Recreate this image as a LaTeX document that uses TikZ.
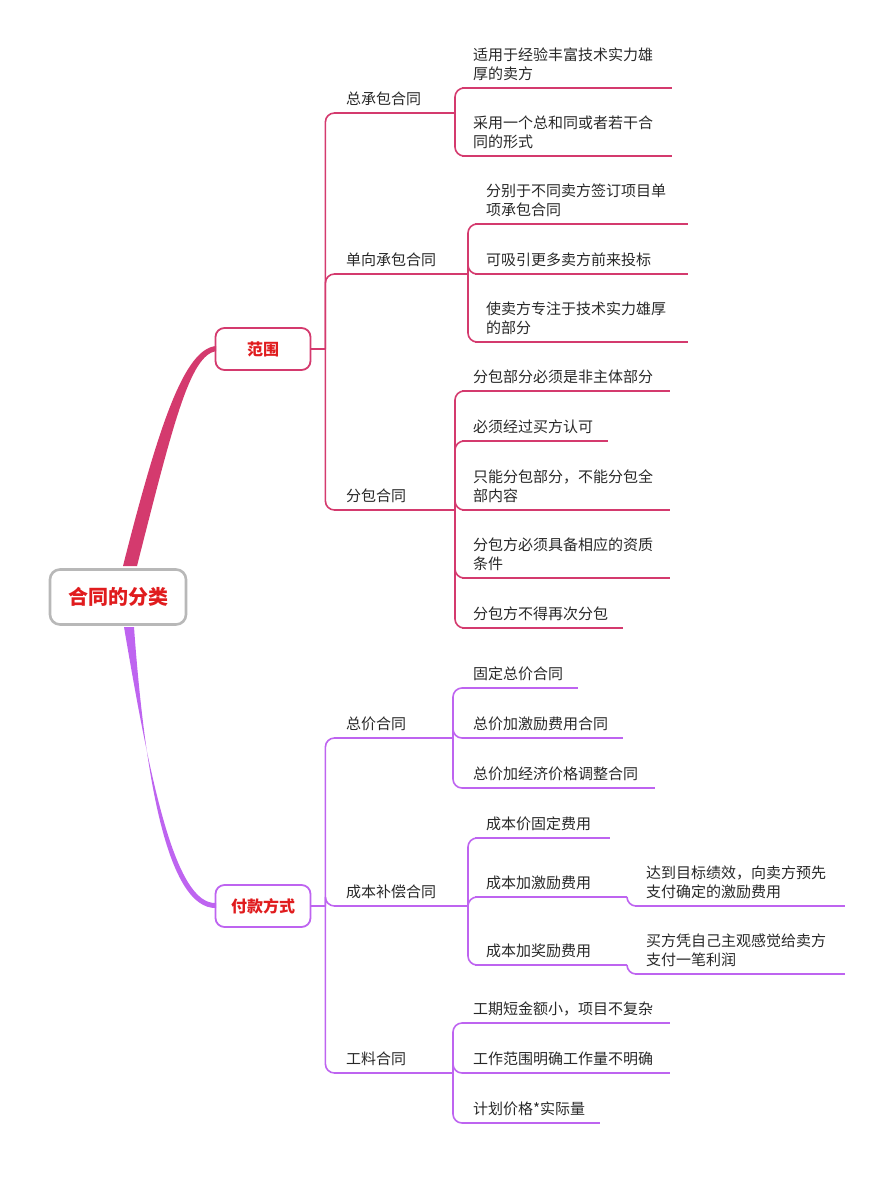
\documentclass[tikz,border=0pt]{standalone}
\usepackage{fontspec}
\setmainfont{Noto Sans CJK SC}
\usetikzlibrary{calc}
\definecolor{pinkc}{RGB}{212,58,110}
\definecolor{purc}{RGB}{190,100,240}
\definecolor{redt}{RGB}{224,28,30}
\definecolor{txtc}{RGB}{40,40,40}
\tikzset{
 txt/.style={text=txtc,font=\fontsize{15}{19}\selectfont,align=left,anchor=south west,inner sep=0pt},
 uline/.style={line width=1.6pt},
 box/.style={draw=#1,line width=1.8pt,rounded corners=9pt,minimum width=95pt,minimum height=42pt,text=redt,font=\fontsize{16}{18}\selectfont\bfseries},
}
\newcommand\topic[6]{%
 \coordinate (#1s) at (#3,#5); \coordinate (#1e) at (#4,#5);
 \draw[#2,uline] (#1s) -- (#1e);
 \node[txt] (#1) at ($(#1s)+(11,-7)$) {#6};}
\newcommand\branch[4]{\draw[#1,uline] (#2) -- ++(#4,0);
 \draw[#1,uline,rounded corners=9pt] ($(#2)+(#4,0)$) |- (#3);}
\begin{document}
\begin{tikzpicture}[x=1pt,y=-1pt]
\useasboundingbox (0,0) rectangle (894,1194);
% root
\node[draw=black!28,line width=2.6pt,rounded corners=10pt,minimum width=136pt,minimum height=55pt,text=redt,font=\fontsize{20}{22}\selectfont\bfseries] (root) at (118,597) {合同的分类};
\node[box=pinkc] (fw) at (263,349) {范围};
\node[box=purc] (fk) at (263,906) {付款方式};
\fill[pinkc] (123,566) .. controls (160,420) and (185,349) .. (216,346) -- (216,351) .. controls (190,356) and (174,420) .. (137,566) -- cycle;
\fill[purc] (124,627) .. controls (150,780) and (175,905) .. (216,903) -- (216,908) .. controls (168,909) and (145,780) .. (134,627) -- cycle;
% scope branch
\topic{a}{pinkc}{335}{452}{113}{总承包合同}
\topic{b}{pinkc}{335}{465}{274}{单向承包合同}
\topic{c}{pinkc}{335}{452}{510}{分包合同}
\foreach \t in {a,b,c} {\branch{pinkc}{fw.east}{\t s}{14}}
\topic{a1}{pinkc}{462}{672}{88}{适用于经验丰富技术实力雄\\厚的卖方}
\topic{a2}{pinkc}{462}{672}{156}{采用一个总和同或者若干合\\同的形式}
\foreach \t in {a1,a2} {\branch{pinkc}{ae}{\t s}{3}}
\topic{b1}{pinkc}{475}{688}{224}{分别于不同卖方签订项目单\\项承包合同}
\topic{b2}{pinkc}{475}{688}{274}{可吸引更多卖方前来投标}
\topic{b3}{pinkc}{475}{688}{342}{使卖方专注于技术实力雄厚\\的部分}
\foreach \t in {b1,b2,b3} {\branch{pinkc}{be}{\t s}{3}}
\topic{c1}{pinkc}{462}{670}{391}{分包部分必须是非主体部分}
\topic{c2}{pinkc}{462}{608}{441}{必须经过买方认可}
\topic{c3}{pinkc}{462}{670}{510}{只能分包部分，不能分包全\\部内容}
\topic{c4}{pinkc}{462}{670}{578}{分包方必须具备相应的资质\\条件}
\topic{c5}{pinkc}{462}{623}{628}{分包方不得再次分包}
\foreach \t in {c1,c2,c3,c4,c5} {\branch{pinkc}{ce}{\t s}{3}}
% payment branch
\topic{d}{purc}{335}{450}{738}{总价合同}
\topic{e}{purc}{335}{465}{906}{成本补偿合同}
\topic{f}{purc}{335}{450}{1073}{工料合同}
\foreach \t in {d,e,f} {\branch{purc}{fk.east}{\t s}{14}}
\topic{d1}{purc}{462}{578}{688}{固定总价合同}
\topic{d2}{purc}{462}{623}{738}{总价加激励费用合同}
\topic{d3}{purc}{462}{655}{788}{总价加经济价格调整合同}
\foreach \t in {d1,d2,d3} {\branch{purc}{de}{\t s}{3}}
\topic{e1}{purc}{475}{610}{838}{成本价固定费用}
\topic{e2}{purc}{475}{625}{897}{成本加激励费用}
\topic{e3}{purc}{475}{625}{965}{成本加奖励费用}
\foreach \t in {e1,e2,e3} {\branch{purc}{ee}{\t s}{3}}
\topic{g1}{purc}{635}{845}{906}{达到目标绩效，向卖方预先\\支付确定的激励费用}
\topic{g2}{purc}{635}{845}{974}{买方凭自己主观感觉给卖方\\支付一笔利润}
\branch{purc}{e2e}{g1s}{2}
\branch{purc}{e3e}{g2s}{2}
\topic{f1}{purc}{462}{670}{1023}{工期短金额小，项目不复杂}
\topic{f2}{purc}{462}{670}{1073}{工作范围明确工作量不明确}
\topic{f3}{purc}{462}{600}{1123}{计划价格*实际量}
\foreach \t in {f1,f2,f3} {\branch{purc}{fe}{\t s}{3}}
\end{tikzpicture}
\end{document}
